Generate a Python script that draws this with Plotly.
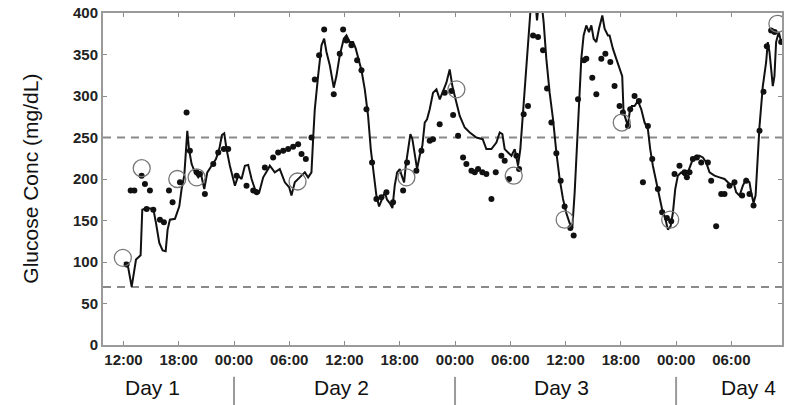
import plotly.graph_objects as go

# ---- data (hours since Day 1 00:00, glucose mg/dL) ----
line_hours = [12.1, 12.52, 12.89, 13.36, 13.86, 14.04, 14.51, 15.24, 15.53, 15.89, 16.25, 16.58, 16.79, 17.04, 17.59,
              18.06, 18.31, 18.60, 18.93, 19.11, 19.40, 19.76, 20.12, 20.41, 20.77, 21.10, 21.57, 22.04, 22.40, 22.69,
              22.94, 23.19, 23.55, 23.92, 24.10, 24.46, 24.82, 25.18, 25.54, 25.91, 26.27, 26.74, 27.17, 27.71, 27.89,
              28.43, 28.97, 29.52, 29.99, 30.24, 30.60, 31.14, 31.69, 32.05, 32.41, 32.59, 32.77, 33.13, 33.50, 33.79,
              34.04, 34.40, 34.83, 35.12, 35.48, 35.92, 36.21, 36.57, 36.93, 37.22, 37.47, 37.84, 38.20, 38.56, 38.85,
              39.17, 39.46, 39.75, 40.04, 40.37, 40.62, 40.91, 41.20, 41.45, 41.71, 42.00, 42.21, 42.47, 42.65, 42.90,
              43.15, 43.37, 43.62, 43.88, 44.16, 44.45, 44.71, 44.96, 45.25, 45.61, 45.98, 46.34, 46.88, 47.06, 47.42,
              47.71, 47.97, 48.51, 49.05, 49.60, 50.32, 51.00, 51.40, 51.95, 52.49, 52.85, 53.14, 53.39, 53.75, 54.12,
              54.48, 54.84, 55.09, 55.38, 55.67, 56.03, 56.25, 56.76, 56.90, 57.08, 57.41, 57.62, 57.91, 58.27, 58.64,
              59.00, 59.36, 59.72, 60.08, 60.44, 60.73, 60.99, 61.24, 61.46, 61.71, 61.96, 62.25, 62.54, 62.80, 63.05,
              63.34, 63.63, 63.99, 64.24, 64.60, 64.78, 65.14, 65.50, 65.86, 66.15, 66.30, 66.52, 66.77, 66.95, 67.20,
              67.49, 67.85, 68.22, 68.58, 68.94, 69.19, 69.48, 69.84, 70.20, 70.49, 70.86, 71.11, 71.40, 71.65, 71.91,
              72.19, 72.56, 72.92, 73.28, 73.57, 73.82, 74.18, 74.54, 74.91, 75.27, 75.63, 76.17, 76.71, 77.26, 77.62,
              77.98, 78.23, 78.52, 78.89, 79.25, 79.61, 79.97, 80.15, 80.41, 80.63, 80.77, 81.06, 81.42, 81.78, 81.96,
              82.14, 82.32, 82.50, 82.68, 82.86, 83.15, 83.41]
line_glucose = [100, 93, 70, 103, 108, 163, 165, 164, 147, 123, 114, 113, 139, 151, 152,
                167, 188, 204, 258, 236, 218, 208, 202, 206, 188, 208, 216, 224, 236, 253,
                255, 236, 216, 200, 192, 204, 200, 216, 217, 200, 188, 184, 202, 212, 216,
                208, 212, 196, 190, 180, 196, 202, 208, 202, 208, 248, 284, 324, 361, 369,
                353, 337, 310, 324, 349, 369, 373, 365, 365, 357, 345, 331, 308, 276, 236,
                204, 180, 167, 175, 184, 175, 171, 165, 192, 208, 212, 204, 196, 216, 236,
                254, 248, 228, 212, 228, 240, 268, 272, 284, 304, 308, 296, 311, 316, 332,
                312, 300, 276, 262, 256, 250, 248, 236, 236, 244, 256, 254, 236, 232, 228,
                236, 216, 236, 284, 324, 381, 412, 409, 391, 410, 411, 389, 345, 304, 272,
                232, 200, 176, 159, 147, 141, 184, 244, 296, 345, 373, 385, 377, 385, 369,
                365, 381, 397, 381, 373, 373, 357, 345, 333, 324, 280, 272, 264, 280, 288,
                288, 294, 284, 268, 260, 236, 216, 196, 176, 163, 151, 139, 143, 159, 188,
                204, 208, 204, 208, 216, 224, 228, 228, 226, 220, 208, 204, 202, 200, 196,
                192, 196, 184, 180, 192, 200, 196, 184, 171, 180, 212, 264, 312, 341, 365,
                353, 333, 312, 324, 365, 377, 365]

dot_hours = [12.34, 12.78, 13.18, 13.97, 14.33, 14.51, 14.87, 15.24, 15.96, 16.39, 16.94, 17.33, 18.13, 18.85, 19.21,
             19.94, 20.30, 20.84, 21.75, 22.29, 22.90, 23.37, 24.28, 25.36, 26.09, 26.45, 27.35, 28.25, 28.79, 29.34,
             29.88, 30.42, 30.96, 31.33, 31.80, 32.41, 32.77, 33.24, 33.79, 34.83, 35.48, 35.85, 36.21, 36.75, 37.37,
             37.84, 38.38, 38.99, 39.46, 40.01, 40.55, 41.27, 42.36, 42.79, 43.80, 44.35, 45.25, 45.61, 46.33, 46.88,
             47.61, 47.79, 48.33, 48.87, 49.23, 49.78, 50.14, 50.50, 50.97, 51.40, 51.95, 52.42, 53.03, 53.39, 53.86,
             54.66, 54.95, 55.45, 55.92, 56.47, 57.01, 57.55, 57.99, 58.46, 59.00, 59.47, 59.90, 60.52, 60.88, 61.35,
             62.00, 62.25, 62.90, 63.34, 63.88, 64.32, 64.86, 65.32, 65.86, 66.23, 66.77, 67.02, 67.49, 67.96, 68.40,
             68.94, 69.41, 70.02, 70.49, 71.00, 71.47, 71.83, 72.37, 72.92, 73.17, 73.46, 73.82, 74.26, 74.73, 75.45,
             75.81, 76.35, 76.90, 77.26, 77.80, 78.34, 79.17, 79.61, 79.97, 80.41, 81.06, 81.49, 81.85, 82.32, 82.70,
             83.41]
dot_glucose = [97, 186, 186, 204, 194, 164, 186, 163, 151, 148, 186, 172, 196, 280, 234,
               208, 206, 182, 218, 232, 236, 236, 204, 192, 186, 184, 214, 226, 232, 234,
               236, 239, 242, 230, 224, 250, 320, 349, 380, 302, 351, 380, 367, 361, 343,
               331, 284, 220, 176, 178, 184, 172, 186, 220, 210, 234, 246, 248, 266, 304,
               306, 277, 252, 226, 218, 210, 208, 212, 208, 206, 176, 208, 228, 222, 200,
               228, 212, 278, 288, 373, 371, 355, 309, 268, 231, 198, 167, 141, 132, 296,
               343, 345, 322, 302, 345, 351, 341, 312, 288, 280, 264, 284, 300, 294, 196,
               264, 224, 188, 160, 153, 149, 206, 216, 208, 202, 208, 224, 226, 220, 220,
               198, 143, 182, 182, 192, 196, 180, 198, 182, 168, 258, 305, 360, 379, 377,
               365]

ref_hours = [11.93, 13.98, 17.84, 19.94, 30.9, 42.72, 48.15, 54.37, 59.90, 66.1, 71.36, 83.0]
ref_glucose = [105, 213, 200, 202, 197, 202, 308, 204, 151, 268, 151, 387]

tick_vals = [12, 18, 24, 30, 36, 42, 48, 54, 60, 66, 72, 78]
tick_text = ["12:00", "18:00", "00:00", "06:00", "12:00", "18:00", "00:00", "06:00", "12:00", "18:00", "00:00", "06:00"]

day_labels = ["Day 1", "Day 2", "Day 3", "Day 4"]
day_label_hours = [15.2, 35.7, 59.6, 79.9]
day_boundaries = [24, 48, 72]

thresholds = [250, 70]

FONT = "Arial, Liberation Sans, sans-serif"

fig = go.Figure()
fig.add_trace(go.Scatter(x=line_hours, y=line_glucose, mode="lines",
                         line=dict(color="#111111", width=2), showlegend=False))
fig.add_trace(go.Scatter(x=dot_hours, y=dot_glucose, mode="markers",
                         marker=dict(color="#111111", size=6), showlegend=False, cliponaxis=True))
fig.add_trace(go.Scatter(x=ref_hours, y=ref_glucose, mode="markers",
                         marker=dict(symbol="circle-open", color="#777777", size=17, line=dict(width=1.3)),
                         showlegend=False, cliponaxis=True))

for t in thresholds:
    fig.add_shape(type="line", xref="paper", x0=0, x1=1, yref="y", y0=t, y1=t,
                  line=dict(color="#8a8a8a", width=2, dash="8px,6px"), layer="below")

for b in day_boundaries:
    fig.add_shape(type="line", xref="x", x0=b, x1=b, yref="paper", y0=-0.096, y1=-0.19,
                  line=dict(color="#9a9a9a", width=2))

for lab, h in zip(day_labels, day_label_hours):
    fig.add_annotation(text=lab, x=h, xref="x", y=-0.128, yref="paper", showarrow=False,
                       xanchor="center", yanchor="middle", font=dict(family=FONT, size=21, color="#111111"))

fig.add_annotation(text="Glucose Conc (mg/dL)", xref="paper", x=-0.108, yref="paper", y=0.5,
                   textangle=-90, showarrow=False, xanchor="center", yanchor="middle",
                   font=dict(family=FONT, size=21, color="#111111"))

axis_common = dict(showline=True, linecolor="#9a9a9a", linewidth=2, mirror="ticks",
                   ticks="inside", ticklen=4, tickcolor="#8a8a8a", tickwidth=1,
                   showgrid=False, zeroline=False, automargin=False, ticklabeloverflow="allow",
                   tickfont=dict(family=FONT, size=15, color="#222222", weight="bold"))

fig.update_xaxes(range=[9.776, 83.5], tickvals=tick_vals, ticktext=tick_text, **axis_common)
fig.update_yaxes(range=[0, 400], tickvals=list(range(0, 401, 50)), **axis_common)

fig.update_layout(width=785, height=405, margin=dict(l=103, r=2.5, t=13, b=60, autoexpand=False),
                  paper_bgcolor="white", plot_bgcolor="white",
                  font=dict(family=FONT))

# remove the browser's default 8px body margin so the figure fills the 785x405 window exactly
fig.write_html("out.html", config={"displayModeBar": False},
               post_script="document.body.style.margin='0';document.body.style.overflow='hidden';")
